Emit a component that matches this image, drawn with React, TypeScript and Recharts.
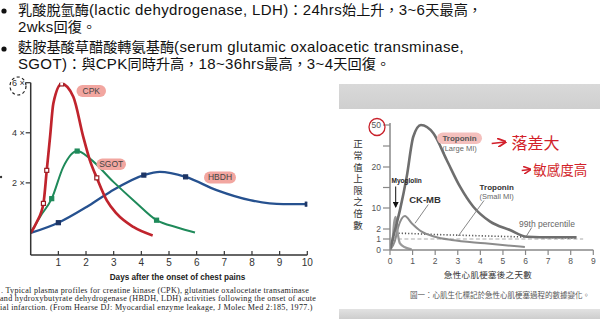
import React from "react";
import { ComposedChart, Line, XAxis, YAxis } from "recharts";

// ---- left chart: multiples of normal vs days after chest pain ----
const CPK_DAYS = [0, 0.22, 0.46, 0.58, 0.7, 0.82, 1.12, 1.54, 1.9, 2.14, 2.39, 2.75, 3.1, 3.71, 4.41];
const CPK_VALUES = [0, 0.44, 1.18, 2.5, 3.84, 5.18, 5.95, 5.44, 3.84, 2.9, 2.2, 1.3, 0.78, 0.24, -0.1];
const CPK_MARKS = [2, 3, 6, 10];

const SGOT_DAYS = [0, 0.34, 0.76, 1.18, 1.68, 2.14, 2.99, 3.8, 4.55, 5.3, 5.94];
const SGOT_VALUES = [0, 0.65, 1.37, 2.64, 3.27, 2.97, 2.04, 1.22, 0.51, 0.22, 0.02];
const SGOT_MARKS = [2, 4, 8];

const HBDH_DAYS = [0, 1.0, 2.02, 2.87, 4.09, 4.67, 5.6, 6.72, 7.93, 9.13, 10];
const HBDH_VALUES = [0, 0.41, 1.04, 1.64, 2.31, 2.44, 2.24, 1.71, 1.31, 1.15, 1.15];
const HBDH_MARKS = [1, 4, 6, 10];

const L_Y_TICKS = [2, 4, 6];
const L_X_TICKS = [1, 2, 3, 4, 5, 6, 7, 8, 9, 10];

// ---- right chart: multiples of upper normal limit (broken axis) ----
const R_TICK_VALUES = [0, 1, 2, 10, 20, 50];
const R_TICK_POS = [0, 11, 21, 42, 83, 125];
const R_MINOR = [15, 35];
const R_X_TICKS = [0, 1, 2, 3, 4, 5, 6, 7, 8, 9];

const LARGE_DAYS = [0, 0.22, 0.44, 0.74, 1.03, 1.37, 1.92, 2.51, 3.1, 3.69, 4.42, 5.31, 6.06, 7.2, 8.26];
const LARGE_VALUES = [0, 1.9, 9.2, 17.6, 41.6, 50, 44.1, 25, 15.2, 10.3, 4.9, 1.9, 1.23, 1.17, 1.17];

const CKMB_DAYS = [0, 0.2, 0.37, 0.66, 0.96, 1.4, 1.99, 2.73, 4.2, 5.97];
const CKMB_VALUES = [0, 0.73, 2.9, 6.95, 4.2, 1.73, 1.23, 0.91, 0.61, 0.27];

const MYO_DAYS = [0, 0.12, 0.18, 0.25, 0.32, 0.44, 0.66, 0.96];
const MYO_VALUES = [0, 1.1, 4.2, 6.6, 1.9, 0.6, 0.25, 0.06];

const SMALL_DAYS = [0, 0.2, 0.35, 2, 4, 6, 8.3];
const SMALL_VALUES = [0, 0.9, 1.57, 1.45, 1.32, 1.2, 1.1];

const PCT_DAYS = [0.35, 8.55];
const PCT_VALUES = [1, 1];

const SANS = "'Liberation Sans', Arial, sans-serif";
const CJK_FONT = "'Noto Sans CJK TC', 'Noto Sans CJK SC', sans-serif";
const SERIF = "'Liberation Serif', 'DejaVu Serif', serif";

function toPos(v: number) {
  for (let i = 1; i < R_TICK_VALUES.length; i++) {
    if (v <= R_TICK_VALUES[i]) {
      const a = R_TICK_VALUES[i - 1];
      const b = R_TICK_VALUES[i];
      return R_TICK_POS[i - 1] + ((v - a) / (b - a)) * (R_TICK_POS[i] - R_TICK_POS[i - 1]);
    }
  }
  return R_TICK_POS[R_TICK_POS.length - 1];
}

const zip = (xs: number[], ys: number[]) => xs.map((x, i) => ({ x, y: ys[i] }));
const zipPos = (xs: number[], ys: number[]) => xs.map((x, i) => ({ x, y: toPos(ys[i]) }));

const markDot = (marks: number[], color: string, filled: boolean) => (p: any) => {
  if (!marks.includes(p.index)) return <g key={p.index} />;
  return (
    <rect
      key={p.index}
      x={p.cx - 2}
      y={p.cy - 2}
      width={4}
      height={4}
      fill={filled ? color : "#fff"}
      stroke={color}
      strokeWidth={1.2}
    />
  );
};

function LeftYTick(props: any) {
  const { x, y, payload } = props;
  return (
    <g>
      <line x1={x - 5} x2={x} y1={y} y2={y} stroke="#333" strokeWidth={1.2} />
      <text x={x - 6} y={y} dy="0.35em" textAnchor="end" fontSize={9} fill="#333" fontFamily={SANS}>
        {`${payload.value} ×`}
      </text>
    </g>
  );
}

function LeftXTick(props: any) {
  const { x, y, payload } = props;
  return (
    <g>
      <line x1={x} x2={x} y1={y} y2={y - 4} stroke="#333" strokeWidth={1.2} />
      <text x={x} y={y + 7} dy="0.35em" textAnchor="middle" fontSize={10} fill="#333" fontFamily={SANS}>
        {payload.value}
      </text>
    </g>
  );
}

function RightYTick(props: any) {
  const { x, y, payload } = props;
  const i = R_TICK_POS.findIndex((p) => Math.abs(p - payload.value) < 0.01);
  return (
    <g>
      <line x1={x - 7} x2={x} y1={y} y2={y} stroke="#888" strokeWidth={1.2} />
      {i >= 0 && (
        <text x={x - 9} y={y} dy="0.35em" textAnchor="end" fontSize={8.5} fill="#555" fontFamily={SANS}>
          {R_TICK_VALUES[i]}
        </text>
      )}
    </g>
  );
}

function RightXTick(props: any) {
  const { x, y, payload } = props;
  return (
    <g>
      <line x1={x} x2={x} y1={y} y2={y + 5} stroke="#888" strokeWidth={1.2} />
      <text x={x} y={y + 11} dy="0.35em" textAnchor="middle" fontSize={8.5} fill="#555" fontFamily={SANS}>
        {payload.value}
      </text>
    </g>
  );
}

const CJK_RE = /[\u3000-\u303f\u3400-\u9fff\uff00-\uffef]/;
function Mixed({ text }: { text: string }) {
  const runs: { t: string; cjk: boolean }[] = [];
  for (const ch of text) {
    const c = CJK_RE.test(ch);
    const last = runs[runs.length - 1];
    if (last && last.cjk === c) last.t += ch;
    else runs.push({ t: ch, cjk: c });
  }
  return (
    <>
      {runs.map((r, i) => (
        <span
          key={i}
          style={r.cjk ? { fontFamily: CJK_FONT, fontSize: 14.2 } : { fontFamily: SANS, fontSize: 15, letterSpacing: 0.35 }}
        >
          {r.t}
        </span>
      ))}
    </>
  );
}

const TOP_LINES = [
  { text: "乳酸脫氫酶(lactic dehydrogenase, LDH)：24hrs始上升，3~6天最高，", cy: 9 },
  { text: "2wks回復。", cy: 25.5 },
  { text: "麩胺基酸草醋酸轉氨基酶(serum glutamic oxaloacetic transminase,", cy: 46 },
  { text: "SGOT)：與CPK同時升高，18~36hrs最高，3~4天回復。", cy: 62.8 },
];

const CAPTION_LINES = [
  { text: ". Typical plasma profiles for creatine kinase (CPK), glutamate oxalocetate transaminase", x: 1, cy: 291 },
  { text: "and hydroxybutyrate dehydrogenase (HBDH, LDH) activities following the onset of acute", x: 0, cy: 299.3 },
  { text: "ial infarction. (From Hearse DJ: Myocardial enzyme leakage, J Molec Med 2:185, 1977.)", x: 0, cy: 307.6 },
];

function Pill({ x, y, w, h, label }: any) {
  return (
    <g>
      <rect x={x} y={y} width={w} height={h} rx={h / 2} fill="#f2a6a0" />
      <text x={x + w / 2} y={y + h / 2} dy="0.35em" textAnchor="middle" fontSize={8.5} fill="#444" fontFamily={SANS}>
        {label}
      </text>
    </g>
  );
}

export default function App() {
  const rightTicks = [...R_TICK_VALUES, ...R_MINOR].map(toPos).sort((a, b) => a - b);
  return (
    <div style={{ position: "absolute", left: 0, top: 0, width: 600, height: 319, overflow: "hidden", background: "#fff" }}>
      {TOP_LINES.map((l, i) => (
        <div
          key={i}
          style={{ position: "absolute", left: 18, top: l.cy - 8, height: 16, lineHeight: "16px", whiteSpace: "nowrap", color: "#111" }}
        >
          <Mixed text={l.text} />
        </div>
      ))}

      {/* gray bands framing the right picture */}
      <div style={{ position: "absolute", left: 339, top: 84, width: 261, height: 25, background: "linear-gradient(#d9d9d9, #cfcfcf)" }} />
      <div style={{ position: "absolute", left: 339, top: 309, width: 261, height: 10, background: "linear-gradient(#e2e2e2, #cdcdcd)" }} />

      <div style={{ position: "absolute", left: 0, top: 60 }}>
        <ComposedChart width={330} height={259} margin={{ top: 22.7, right: 22.7, left: 0, bottom: 0 }}>
          <XAxis
            type="number"
            dataKey="x"
            domain={[0, 10]}
            ticks={L_X_TICKS}
            interval={0}
            allowDataOverflow
            height={64}
            tickSize={0}
            tickMargin={0}
            tickLine={false}
            tick={<LeftXTick />}
            axisLine={{ stroke: "#333", strokeWidth: 1.5 }}
          />
          <YAxis
            type="number"
            domain={[-0.88, 6]}
            ticks={L_Y_TICKS}
            interval={0}
            allowDataOverflow
            width={30.7}
            tickSize={0}
            tickMargin={0}
            tickLine={false}
            tick={<LeftYTick />}
            axisLine={{ stroke: "#333", strokeWidth: 1.5 }}
          />
          <Line data={zip(HBDH_DAYS, HBDH_VALUES)} dataKey="y" type="monotone" stroke="#26518f" strokeWidth={2.3}
            dot={markDot(HBDH_MARKS, "#1d3565", true)} activeDot={false} isAnimationActive={false} />
          <Line data={zip(SGOT_DAYS, SGOT_VALUES)} dataKey="y" type="monotone" stroke="#1f8a5a" strokeWidth={2}
            dot={markDot(SGOT_MARKS, "#1f8a5a", true)} activeDot={false} isAnimationActive={false} />
          <Line data={zip(CPK_DAYS, CPK_VALUES)} dataKey="y" type="monotone" stroke="#c0242d" strokeWidth={2.7}
            dot={markDot(CPK_MARKS, "#9a1c22", false)} activeDot={false} isAnimationActive={false} />
        </ComposedChart>
      </div>

      {CAPTION_LINES.map((l, i) => (
        <div
          key={i}
          style={{ position: "absolute", left: l.x, top: l.cy - 4, width: 336 - l.x, height: 8, lineHeight: "8px", overflow: "hidden", whiteSpace: "nowrap", fontFamily: SERIF, fontSize: 8.1, letterSpacing: 0.28, color: "#222" }}
        >
          {l.text}
        </div>
      ))}

      <div style={{ position: "absolute", left: 330, top: 109 }}>
        <ComposedChart width={270} height={200} margin={{ top: 14, right: 6.7, left: 0, bottom: 0 }}>
          <XAxis
            type="number"
            dataKey="x"
            domain={[0, 9]}
            ticks={R_X_TICKS}
            interval={0}
            allowDataOverflow
            height={59}
            tickSize={0}
            tickMargin={0}
            tickLine={false}
            tick={<RightXTick />}
            axisLine={{ stroke: "#888", strokeWidth: 1.5 }}
          />
          <YAxis
            type="number"
            domain={[0, 127]}
            ticks={rightTicks}
            interval={0}
            allowDataOverflow
            width={60}
            tickSize={0}
            tickMargin={0}
            tickLine={false}
            tick={<RightYTick />}
            axisLine={{ stroke: "#888", strokeWidth: 1.5 }}
          />
          <Line data={zipPos(PCT_DAYS, PCT_VALUES)} dataKey="y" type="linear" stroke="#aaa" strokeWidth={1.2}
            strokeDasharray="4 2.5" dot={false} activeDot={false} isAnimationActive={false} />
          <Line data={zipPos(SMALL_DAYS, SMALL_VALUES)} dataKey="y" type="monotone" stroke="#555" strokeWidth={1.6}
            strokeDasharray="1.2 2" dot={false} activeDot={false} isAnimationActive={false} />
          <Line data={zipPos(CKMB_DAYS, CKMB_VALUES)} dataKey="y" type="monotone" stroke="#8c8c8c" strokeWidth={2}
            dot={false} activeDot={false} isAnimationActive={false} />
          <Line data={zipPos(MYO_DAYS, MYO_VALUES)} dataKey="y" type="monotone" stroke="#9a9a9a" strokeWidth={2.2}
            dot={false} activeDot={false} isAnimationActive={false} />
          <Line data={zipPos(LARGE_DAYS, LARGE_VALUES)} dataKey="y" type="monotone" stroke="#6e6e6e" strokeWidth={2.6}
            dot={false} activeDot={false} isAnimationActive={false} />
        </ComposedChart>
      </div>

      <div
        style={{ position: "absolute", left: 352, top: 139, writingMode: "vertical-rl", fontFamily: CJK_FONT, fontSize: 9.5, letterSpacing: 2.1, lineHeight: "12px", color: "#333" }}
      >
        正常值上限之倍數
      </div>

      <svg width={600} height={319} style={{ position: "absolute", left: 0, top: 0, pointerEvents: "none" }}>
        <defs>
          <marker id="ah" markerWidth="6" markerHeight="6" refX="5" refY="3" orient="auto">
            <path d="M0,0 L6,3 L0,6 z" fill="#111" />
          </marker>
          <marker id="rh" markerWidth="6" markerHeight="6" refX="5" refY="3" orient="auto">
            <path d="M0,0 L6,3 L0,6" fill="none" stroke="#d21f2a" strokeWidth={1.2} />
          </marker>
        </defs>
        {/* bullets */}
        <circle cx={4} cy={11} r={2.6} fill="#111" />
        <circle cx={4} cy={49} r={2.6} fill="#111" />
        <circle cx={1} cy={177} r={1.2} fill="#333" />

        {/* left chart annotations */}
        <ellipse cx={18} cy={86} rx={8} ry={9} fill="none" stroke="#222" strokeWidth={1.2} strokeDasharray="3 2.5" />
        <Pill x={76.5} y={85} w={29.5} h={12} label="CPK" />
        <Pill x={96.5} y={158.5} w={29.5} h={11.5} label="SGOT" />
        <Pill x={204} y={171.5} w={32} h={12} label="HBDH" />
        <text x={177.5} y={277} dy="0.35em" textAnchor="middle" fontSize={8.2} fontWeight="bold" fill="#222" fontFamily={SANS}>
          Days after the onset of chest pains
        </text>

        {/* right chart annotations */}
        <rect x={437} y={132.5} width={45} height={11.5} rx={5.7} fill="#f4c0bd" />
        <text x={459.5} y={138.3} dy="0.35em" textAnchor="middle" fontSize={8} fontWeight="bold" fill="#555" fontFamily={SANS}>Troponin</text>
        <text x={459.5} y={148.3} dy="0.35em" textAnchor="middle" fontSize={7.5} fill="#666" fontFamily={SANS}>(Large MI)</text>

        <text x={406.7} y={181} dy="0.35em" textAnchor="middle" fontSize={6.5} fontWeight="bold" fill="#222" fontFamily={SANS}>Myoglolin</text>
        <line x1={395.7} y1={186.5} x2={395.7} y2={207} stroke="#111" strokeWidth={1} markerEnd="url(#ah)" />

        <text x={425} y={200} dy="0.35em" textAnchor="middle" fontSize={9.5} fontWeight="bold" fill="#333" fontFamily={SANS}>CK-MB</text>
        <line x1={428.3} y1={204.5} x2={415} y2={223.3} stroke="#888" strokeWidth={1} />

        <text x={496.7} y={187.5} dy="0.35em" textAnchor="middle" fontSize={8} fontWeight="bold" fill="#333" fontFamily={SANS}>Troponin</text>
        <text x={496.7} y={196.5} dy="0.35em" textAnchor="middle" fontSize={7.5} fill="#666" fontFamily={SANS}>(Small MI)</text>
        <line x1={484} y1={200.5} x2={458.3} y2={236} stroke="#888" strokeWidth={1} />

        <text x={547} y={223.7} dy="0.35em" textAnchor="middle" fontSize={8.5} fill="#666" fontFamily={SANS}>99th percentile</text>
        <line x1={531.7} y1={227.5} x2={526} y2={236.7} stroke="#777" strokeWidth={0.9} />

        <text x={488} y={275} dy="0.35em" textAnchor="middle" fontSize={8.5} fill="#333" fontFamily={CJK_FONT} letterSpacing={0.3}>急性心肌梗塞後之天數</text>
        <text x={410} y={295.5} dy="0.35em" fontSize={7.5} fill="#555" fontFamily={CJK_FONT}>圖一：心肌生化標記於急性心肌梗塞過程的數據變化。</text>

        {/* red handwriting */}
        <ellipse cx={377} cy={127} rx={8} ry={8.5} fill="none" stroke="#c8202a" strokeWidth={1.3} />
        <line x1={491.7} y1={143.5} x2={505} y2={142} stroke="#d21f2a" strokeWidth={1.5} markerEnd="url(#rh)" />
        <text x={511.5} y={143.3} dy="0.35em" fontSize={16} fill="#d21f2a" fontFamily={CJK_FONT}>落差大</text>
        <line x1={521.7} y1={170.5} x2={530} y2={169.5} stroke="#d21f2a" strokeWidth={1.3} markerEnd="url(#rh)" />
        <text x={533.3} y={170} dy="0.35em" fontSize={13.5} fill="#d21f2a" fontFamily={CJK_FONT}>敏感度高</text>
      </svg>
    </div>
  );
}
